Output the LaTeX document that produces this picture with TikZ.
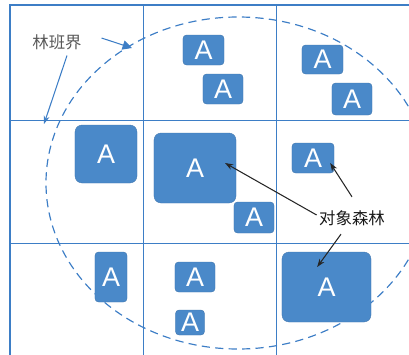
\documentclass[tikz,border=0pt]{standalone}
\usepackage{fontspec}
\newfontfamily\cjk{Noto Sans CJK SC}
\newfontfamily\letra{Liberation Sans}
\usetikzlibrary{arrows.meta}
\definecolor{azul}{HTML}{4A89C9}
\definecolor{linea}{HTML}{3D7EC6}

\tikzset{
	caja/.style={fill=azul, draw=azul!85!black, line width=0.3pt, rounded corners=3pt,
		text=white, font=\letra\fontsize{23}{23}\selectfont, inner sep=0pt},
	cajagrande/.style={caja, rounded corners=6pt},
	rejilla/.style={linea, line width=0.6pt},
	etiqueta/.style={font=\cjk\fontsize{14}{14}\selectfont, inner sep=2pt},
}

\begin{document}
\begin{tikzpicture}[x=0.03cm, y=-0.03cm]
	\useasboundingbox (0,0) rectangle (409,355);
	\clip (0,0) rectangle (409,355);

	% Marco y rejilla
	\draw[linea, line width=1.3pt] (10,355) -- (10,5) -- (409,5);
	\draw[rejilla] (143,5) -- (143,355);
	\draw[rejilla] (276,5) -- (276,355);
	\draw[rejilla] (10,120) -- (409,120);
	\draw[rejilla] (10,243) -- (409,243);

	% Limite del rodal (linea discontinua)
	\draw[linea, line width=1pt, dash pattern=on 7pt off 4.5pt]
		(238,183) ellipse [x radius=5.76cm, y radius=4.98cm];

	% Rodales
	\node[caja, minimum width=1.23cm, minimum height=0.9cm] (b1) at (203.5,50) {A};
	\node[caja, minimum width=1.2cm, minimum height=0.9cm] (b2) at (223,89) {A};
	\node[caja, minimum width=1.23cm, minimum height=0.87cm] (b3) at (322.5,59.5) {A};
	\node[caja, minimum width=1.2cm, minimum height=0.96cm] (b4) at (352,99) {A};
	\node[cajagrande, minimum width=1.86cm, minimum height=1.74cm] (b5) at (106,154) {A};
	\node[cajagrande, minimum width=2.46cm, minimum height=2.1cm] (b6) at (195,168) {A};
	\node[caja, minimum width=1.2cm, minimum height=0.93cm] (b7) at (254,217.5) {A};
	\node[caja, minimum width=1.26cm, minimum height=0.9cm] (b8) at (313,158) {A};
	\node[caja, minimum width=0.96cm, minimum height=1.5cm] (b9) at (111,277) {A};
	\node[caja, minimum width=1.2cm, minimum height=0.9cm] (b10) at (195,277) {A};
	\node[caja, minimum width=0.87cm, minimum height=0.75cm] (b11) at (190,322.5) {A};
	\node[cajagrande, minimum width=2.67cm, minimum height=2.1cm] (b12) at (326.5,287) {A};

	% Etiqueta del limite
	\node[etiqueta, text=black!65] (lindero) at (57,42) {林班界};
	\coordinate (borde1) at (132,48);
	\coordinate (borde2) at (44,124);
	\draw[linea, line width=0.9pt, -{Triangle[length=8pt, width=8pt]}]
		([xshift=0.52cm, yshift=0.12cm]lindero.east) -- (borde1);
	\draw[linea, line width=0.9pt, -{Stealth[length=7pt, width=5pt]}]
		([xshift=0.3cm, yshift=-0.1cm]lindero.south) -- (borde2);

	% Etiqueta de los rodales objetivo
	\node[etiqueta, text=black!90] (objetivo) at (352,218) {对象森林};
	\draw[black!85, line width=0.9pt, -{Stealth[length=7pt, width=5pt]}]
		([yshift=0.09cm]objetivo.west) -- ([xshift=0.9cm, yshift=0.15cm]b6.center);
	\draw[black!85, line width=0.9pt, -{Stealth[length=7pt, width=5pt]}]
		([yshift=0.33cm]objetivo.north) -- ([xshift=-0.12cm, yshift=-0.15cm]b8.east);
	\draw[black!85, line width=0.9pt, -{Stealth[length=7pt, width=5pt]}]
		([xshift=-0.33cm, yshift=-0.18cm]objetivo.south) -- ([xshift=-0.28cm, yshift=0.6cm]b12.center);
\end{tikzpicture}
\end{document}
